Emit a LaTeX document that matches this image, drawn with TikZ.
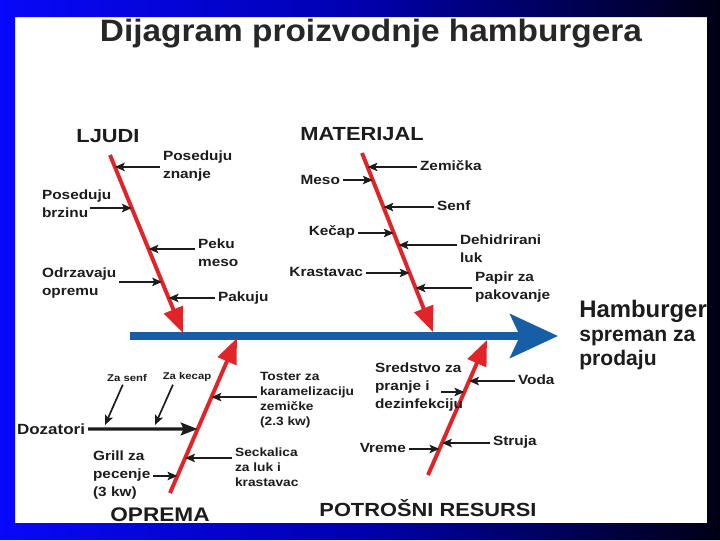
\documentclass[tikz,border=0pt]{standalone}
\usepackage{fontspec}
\setmainfont{Liberation Sans}[FakeStretch=1.15]
\newfontfamily\titlefont{Liberation Sans}[FakeStretch=1.08]
\newfontfamily\endfont{Liberation Sans}
\usetikzlibrary{arrows.meta}
\definecolor{bonered}{RGB}{224,36,40}
\definecolor{spineblue}{RGB}{22,94,166}
\definecolor{ink}{RGB}{28,28,28}
\definecolor{slideblue}{RGB}{8,8,250}
\definecolor{slidemid}{RGB}{0,0,175}
\definecolor{slidedark}{RGB}{0,0,20}
\tikzset{
	bone/.style={bonered,line width=2.8pt,-{Triangle[length=18pt,width=14pt]}},
	cause/.style={ink,line width=1.2pt,-{Stealth[length=7pt,width=6pt,inset=1.5pt]}},
	dozarrow/.style={ink,line width=2.4pt,-{Stealth[length=12pt,width=9pt,inset=2pt]}},
	lbl/.style={font=\bfseries\fontsize{9.5}{12.5}\selectfont,text=ink,align=left,inner sep=2pt},
	lblsmall/.style={font=\bfseries\fontsize{8.5}{10.5}\selectfont,text=ink,align=left,inner sep=2pt},
	lbltiny/.style={font=\bfseries\fontsize{7}{8}\selectfont,text=ink,inner sep=2pt},
	hdr/.style={font=\bfseries\fontsize{13.5}{16}\selectfont,text=ink,inner sep=0pt,anchor=base},
}

\begin{document}
\begin{tikzpicture}[x=0.025cm,y=-0.025cm]
	\useasboundingbox (0,0) rectangle (720,540);
	\fill[white] (15,17) rectangle (707,523);

	\node[font=\titlefont\bfseries\fontsize{22}{26}\selectfont,text=ink!95!white] (title) at (371,34) {Dijagram proizvodnje hamburgera};

	% spine
	\coordinate (sp0) at (130,336);
	\coordinate (sp1) at (558,336);
	\draw[spineblue,line width=5.7pt,-{Stealth[length=34pt,width=31pt,inset=7pt]}] (sp0) -- (sp1);
	\node[font=\endfont\bfseries\fontsize{15}{17}\selectfont,text=ink,align=left,anchor=west,inner sep=0pt] (burger) at (579,335) {{\fontsize{17}{17}\selectfont Hamburger}\\spreman za\\prodaju};

	% ljudi
	\node[hdr] (ljudi) at (108,142) {LJUDI};
	\coordinate (l0) at (110,155);
	\coordinate (l1) at (183,333);
	\draw[bone] (l0) -- (l1) coordinate[pos=.067] (lj1) coordinate[pos=.298] (lj2)
		coordinate[pos=.528] (lj3) coordinate[pos=.713] (lj4) coordinate[pos=.803] (lj5);
	\node[lbl,anchor=west] (pz) at (160,166) {Poseduju\\znanje};
	\node[lbl,anchor=west] (pb) at (39,204) {Poseduju\\brzinu};
	\node[lbl,anchor=west] (pm) at (195,253) {Peku\\meso};
	\node[lbl,anchor=west] (oo) at (39,283) {Odrzavaju\\opremu};
	\node[lbl,anchor=west] (pk) at (215,298) {Pakuju};
	\draw[cause] (pz.west |- lj1) -- (lj1);
	\draw[cause] ([xshift=-17pt]pb.east |- lj2) -- (lj2);
	\draw[cause] (pm.west |- lj3) -- (lj3);
	\draw[cause] (oo.east |- lj4) -- (lj4);
	\draw[cause] (pk.west |- lj5) -- (lj5);

	% materijal
	\node[hdr] (mat) at (362,140) {MATERIJAL};
	\coordinate (m0) at (362,153);
	\coordinate (m1) at (433,332);
	\draw[bone] (m0) -- (m1) coordinate[pos=.078] (ma1) coordinate[pos=.151] (ma2)
		coordinate[pos=.302] (ma3) coordinate[pos=.447] (ma4) coordinate[pos=.514] (ma5)
		coordinate[pos=.670] (ma6) coordinate[pos=.754] (ma7);
	\node[lbl,anchor=west] (ze) at (417,166) {Zemička};
	\node[lbl,anchor=east] (me) at (343,180) {Meso};
	\node[lbl,anchor=west] (se) at (434,206) {Senf};
	\node[lbl,anchor=east] (ke) at (358,232) {Kečap};
	\node[lbl,anchor=west] (dl) at (457,249) {Dehidrirani\\luk};
	\node[lbl,anchor=east] (kr) at (366,272) {Krastavac};
	\node[lbl,anchor=west] (pp) at (472,287) {Papir za\\pakovanje};
	\draw[cause] (ze.west |- ma1) -- (ma1);
	\draw[cause] (me.east |- ma2) -- (ma2);
	\draw[cause] (se.west |- ma3) -- (ma3);
	\draw[cause] (ke.east |- ma4) -- (ma4);
	\draw[cause] (dl.west |- ma5) -- (ma5);
	\draw[cause] (kr.east |- ma6) -- (ma6);
	\draw[cause] (pp.west |- ma7) -- (ma7);

	% oprema
	\node[hdr,font=\bfseries\fontsize{14}{16}\selectfont] (opr) at (160,521) {OPREMA};
	\coordinate (o0) at (170,493);
	\coordinate (o1) at (237,338);
	\draw[bone] (o0) -- (o1) coordinate[pos=.110] (op4) coordinate[pos=.226] (op3)
		coordinate[pos=.413] (op2) coordinate[pos=.619] (op1);
	\node[lblsmall,anchor=west] (to) at (257,400) {Toster za\\karamelizaciju\\zemičke\\(2.3 kw)};
	\node[font=\bfseries\fontsize{10.5}{12}\selectfont,text=ink,anchor=west,inner sep=2pt] (dz) at (14,429) {Dozatori};
	\node[lblsmall,anchor=west] (sk) at (232,467) {Seckalica\\za luk i\\krastavac};
	\node[lbl,anchor=west] (gr) at (90,475) {Grill za\\pecenje\\(3 kw)};
	\node[lbltiny] (zs) at (127,378) {Za senf};
	\node[lbltiny] (zk) at (187,377) {Za kecap};
	\coordinate (zs1) at (105,425);
	\coordinate (zk1) at (155,425);
	\draw[cause] (to.west |- op1) -- (op1);
	\draw[dozarrow] (dz.east) -- (op2);
	\draw[cause] (sk.west |- op3) -- (op3);
	\draw[cause] (gr.east |- op4) -- (op4);
	\draw[cause] ([xshift=-3pt]zs.south) -- (zs1);
	\draw[cause] ([xshift=-10pt]zk.south) -- (zk1);

	% potrosni resursi
	\node[hdr] (res) at (428,516) {POTROŠNI RESURSI};
	\coordinate (p0) at (428,475);
	\coordinate (p1) at (487,340);
	\draw[bone] (p0) -- (p1) coordinate[pos=.193] (po4) coordinate[pos=.237] (po3)
		coordinate[pos=.615] (po2) coordinate[pos=.696] (po1);
	\node[lbl,anchor=west] (vo) at (515,380) {Voda};
	\node[lbl,anchor=west] (sr) at (372,387) {Sredstvo za\\pranje i\\dezinfekciju};
	\node[lbl,anchor=west] (st) at (490,442) {Struja};
	\node[lbl,anchor=east] (vr) at (409,448) {Vreme};
	\draw[cause] (vo.west |- po1) -- (po1);
	\draw[cause] ([xshift=-18pt]sr.east |- po2) -- (po2);
	\draw[cause] (st.west |- po3) -- (po3);
	\draw[cause] (vr.east |- po4) -- (po4);

	% slide frame
	\shade[even odd rule,left color=slideblue,right color=slidedark,middle color=slidemid]
		(0,0) rectangle (720,540) (15,17) rectangle (707,523);
\end{tikzpicture}
\end{document}
